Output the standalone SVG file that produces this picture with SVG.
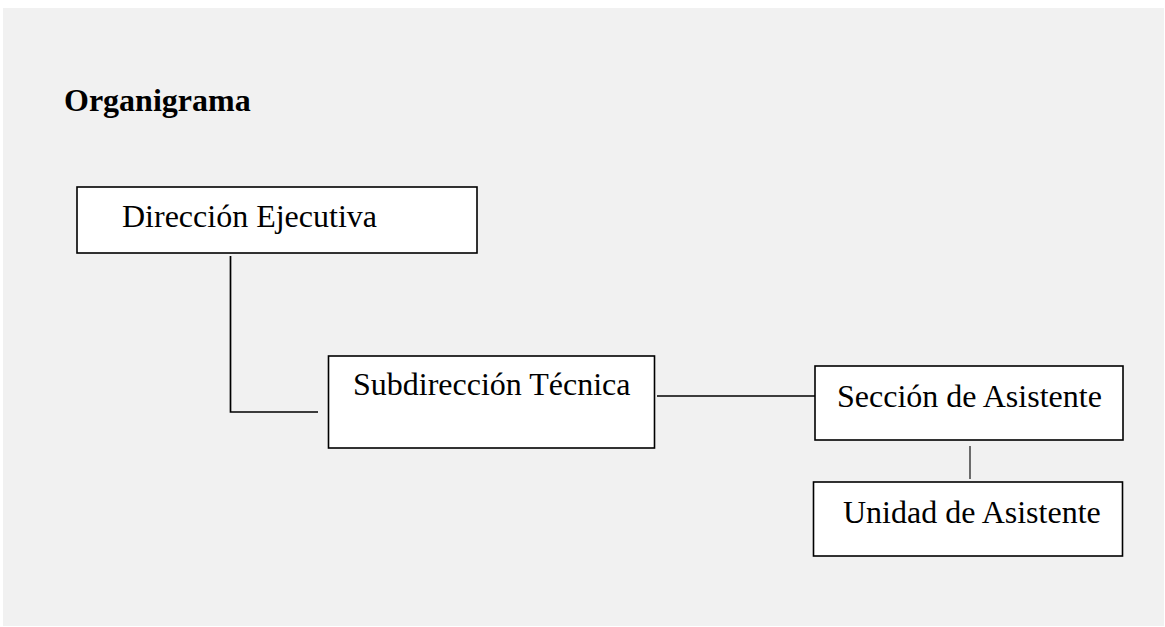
<svg xmlns="http://www.w3.org/2000/svg" width="1165" height="627" viewBox="0 0 1165 627">
  <style>
    .box { fill: #ffffff; stroke: #000000; stroke-width: 1.6; }
    .label { font-family: "Liberation Serif", "Times New Roman", serif; font-size: 32px; fill: #000000; }
    .title { font-family: "Liberation Serif", "Times New Roman", serif; font-size: 32px; font-weight: bold; fill: #000000; }
    .link { fill: none; stroke: #000000; stroke-width: 1.7; }
    .link-light { fill: none; stroke: #333333; stroke-width: 1.4; }
  </style>

  <!-- page background -->
  <rect x="0" y="0" width="1165" height="627" fill="#ffffff"/>
  <rect x="3" y="8" width="1161" height="618" fill="#f1f1f1"/>

  <text class="title" x="64" y="111">Organigrama</text>

  <!-- connectors -->
  <g id="connectors">
    <polyline class="link" points="230.5,256 230.5,412 318,412"/>
    <line class="link" x1="657" y1="396" x2="815" y2="396"/>
    <line class="link-light" x1="970" y1="446" x2="970" y2="479"/>
  </g>

  <g id="direccion-ejecutiva">
    <rect class="box" x="77" y="187" width="400" height="66"/>
    <text class="label" x="122" y="227">Dirección Ejecutiva</text>
  </g>

  <g id="subdireccion-tecnica">
    <rect class="box" x="328.5" y="356" width="326" height="92"/>
    <text class="label" x="353" y="395">Subdirección Técnica</text>
  </g>

  <g id="seccion-asistente">
    <rect class="box" x="815" y="366" width="308" height="74"/>
    <text class="label" x="837" y="407">Sección de Asistente</text>
  </g>

  <g id="unidad-asistente">
    <rect class="box" x="813.5" y="482" width="309" height="74"/>
    <text class="label" x="843" y="523">Unidad de Asistente</text>
  </g>
</svg>
